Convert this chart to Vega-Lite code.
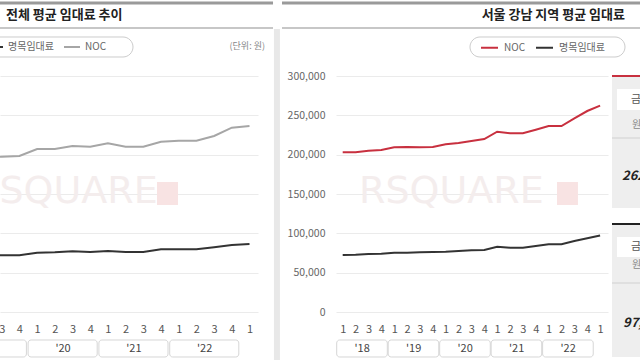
{
  "$schema": "https://vega.github.io/schema/vega-lite/v6.json",
  "autosize": {"type": "none"},
  "padding": {"left": 0, "top": 76, "right": 640, "bottom": 284},
  "background": "white",
  "bounds": "flush",
  "spacing": 78,
  "resolve": {"scale": {"x": "independent", "y": "independent", "color": "independent"}, "legend": {"color": "independent"}},
  "config": {
    "view": {"stroke": null},
    "font": "Noto Sans CJK KR",
    "text": {"font": "Noto Sans CJK KR"},
    "axis": {"labelFont": "Noto Sans CJK KR"},
    "legend": {"labelFont": "Noto Sans CJK KR"}
  },
  "datasets": {
    "total": [
      {"idx": 5, "period": "2019 Q2", "series": "NOC", "rent": 197400},
      {"idx": 6, "period": "2019 Q3", "series": "NOC", "rent": 197400},
      {"idx": 7, "period": "2019 Q4", "series": "NOC", "rent": 198300},
      {"idx": 8, "period": "2020 Q1", "series": "NOC", "rent": 207200},
      {"idx": 9, "period": "2020 Q2", "series": "NOC", "rent": 207200},
      {"idx": 10, "period": "2020 Q3", "series": "NOC", "rent": 211000},
      {"idx": 11, "period": "2020 Q4", "series": "NOC", "rent": 210100},
      {"idx": 12, "period": "2021 Q1", "series": "NOC", "rent": 214400},
      {"idx": 13, "period": "2021 Q2", "series": "NOC", "rent": 210100},
      {"idx": 14, "period": "2021 Q3", "series": "NOC", "rent": 210100},
      {"idx": 15, "period": "2021 Q4", "series": "NOC", "rent": 216500},
      {"idx": 16, "period": "2022 Q1", "series": "NOC", "rent": 217800},
      {"idx": 17, "period": "2022 Q2", "series": "NOC", "rent": 217800},
      {"idx": 18, "period": "2022 Q3", "series": "NOC", "rent": 223700},
      {"idx": 19, "period": "2022 Q4", "series": "NOC", "rent": 234300},
      {"idx": 20, "period": "2023 Q1", "series": "NOC", "rent": 236400},
      {"idx": 5, "period": "2019 Q2", "series": "명목임대료", "rent": 72100},
      {"idx": 6, "period": "2019 Q3", "series": "명목임대료", "rent": 72100},
      {"idx": 7, "period": "2019 Q4", "series": "명목임대료", "rent": 72100},
      {"idx": 8, "period": "2020 Q1", "series": "명목임대료", "rent": 75400},
      {"idx": 9, "period": "2020 Q2", "series": "명목임대료", "rent": 75900},
      {"idx": 10, "period": "2020 Q3", "series": "명목임대료", "rent": 77200},
      {"idx": 11, "period": "2020 Q4", "series": "명목임대료", "rent": 76300},
      {"idx": 12, "period": "2021 Q1", "series": "명목임대료", "rent": 77500},
      {"idx": 13, "period": "2021 Q2", "series": "명목임대료", "rent": 76300},
      {"idx": 14, "period": "2021 Q3", "series": "명목임대료", "rent": 76300},
      {"idx": 15, "period": "2021 Q4", "series": "명목임대료", "rent": 79700},
      {"idx": 16, "period": "2022 Q1", "series": "명목임대료", "rent": 79700},
      {"idx": 17, "period": "2022 Q2", "series": "명목임대료", "rent": 79700},
      {"idx": 18, "period": "2022 Q3", "series": "명목임대료", "rent": 82200},
      {"idx": 19, "period": "2022 Q4", "series": "명목임대료", "rent": 85200},
      {"idx": 20, "period": "2023 Q1", "series": "명목임대료", "rent": 86400}
    ],
    "gangnam": [
      {"idx": 0, "period": "2018 Q1", "series": "NOC", "rent": 203000},
      {"idx": 1, "period": "2018 Q2", "series": "NOC", "rent": 203000},
      {"idx": 2, "period": "2018 Q3", "series": "NOC", "rent": 205000},
      {"idx": 3, "period": "2018 Q4", "series": "NOC", "rent": 205900},
      {"idx": 4, "period": "2019 Q1", "series": "NOC", "rent": 209400},
      {"idx": 5, "period": "2019 Q2", "series": "NOC", "rent": 209700},
      {"idx": 6, "period": "2019 Q3", "series": "NOC", "rent": 209400},
      {"idx": 7, "period": "2019 Q4", "series": "NOC", "rent": 209700},
      {"idx": 8, "period": "2020 Q1", "series": "NOC", "rent": 213200},
      {"idx": 9, "period": "2020 Q2", "series": "NOC", "rent": 214800},
      {"idx": 10, "period": "2020 Q3", "series": "NOC", "rent": 217400},
      {"idx": 11, "period": "2020 Q4", "series": "NOC", "rent": 219900},
      {"idx": 12, "period": "2021 Q1", "series": "NOC", "rent": 229200},
      {"idx": 13, "period": "2021 Q2", "series": "NOC", "rent": 227200},
      {"idx": 14, "period": "2021 Q3", "series": "NOC", "rent": 227200},
      {"idx": 15, "period": "2021 Q4", "series": "NOC", "rent": 231700},
      {"idx": 16, "period": "2022 Q1", "series": "NOC", "rent": 236400},
      {"idx": 17, "period": "2022 Q2", "series": "NOC", "rent": 236400},
      {"idx": 18, "period": "2022 Q3", "series": "NOC", "rent": 246200},
      {"idx": 19, "period": "2022 Q4", "series": "NOC", "rent": 255500},
      {"idx": 20, "period": "2023 Q1", "series": "NOC", "rent": 262300},
      {"idx": 0, "period": "2018 Q1", "series": "명목임대료", "rent": 72500},
      {"idx": 1, "period": "2018 Q2", "series": "명목임대료", "rent": 72800},
      {"idx": 2, "period": "2018 Q3", "series": "명목임대료", "rent": 73700},
      {"idx": 3, "period": "2018 Q4", "series": "명목임대료", "rent": 74100},
      {"idx": 4, "period": "2019 Q1", "series": "명목임대료", "rent": 75400},
      {"idx": 5, "period": "2019 Q2", "series": "명목임대료", "rent": 75400},
      {"idx": 6, "period": "2019 Q3", "series": "명목임대료", "rent": 75900},
      {"idx": 7, "period": "2019 Q4", "series": "명목임대료", "rent": 76300},
      {"idx": 8, "period": "2020 Q1", "series": "명목임대료", "rent": 76700},
      {"idx": 9, "period": "2020 Q2", "series": "명목임대료", "rent": 77500},
      {"idx": 10, "period": "2020 Q3", "series": "명목임대료", "rent": 78400},
      {"idx": 11, "period": "2020 Q4", "series": "명목임대료", "rent": 78800},
      {"idx": 12, "period": "2021 Q1", "series": "명목임대료", "rent": 83000},
      {"idx": 13, "period": "2021 Q2", "series": "명목임대료", "rent": 81700},
      {"idx": 14, "period": "2021 Q3", "series": "명목임대료", "rent": 81700},
      {"idx": 15, "period": "2021 Q4", "series": "명목임대료", "rent": 83900},
      {"idx": 16, "period": "2022 Q1", "series": "명목임대료", "rent": 86100},
      {"idx": 17, "period": "2022 Q2", "series": "명목임대료", "rent": 86100},
      {"idx": 18, "period": "2022 Q3", "series": "명목임대료", "rent": 90300},
      {"idx": 19, "period": "2022 Q4", "series": "명목임대료", "rent": 93700},
      {"idx": 20, "period": "2023 Q1", "series": "명목임대료", "rent": 97200}
    ],
    "yearsLeft": [
      {"year": "'19", "start": 4, "end": 7},
      {"year": "'20", "start": 8, "end": 11},
      {"year": "'21", "start": 12, "end": 15},
      {"year": "'22", "start": 16, "end": 19}
    ],
    "yearsRight": [
      {"year": "'18", "start": 0, "end": 3},
      {"year": "'19", "start": 4, "end": 7},
      {"year": "'20", "start": 8, "end": 11},
      {"year": "'21", "start": 12, "end": 15},
      {"year": "'22", "start": 16, "end": 19}
    ],
    "one": [{}]
  },
  "hconcat": [
    {
      "width": 258,
      "height": 236,
      "resolve": {"axis": {"x": "independent", "y": "independent"}},
      "layer": [
        {
          "data": {"name": "total"},
          "mark": {"type": "line", "strokeWidth": 2, "clip": true},
          "encoding": {
            "x": {"field": "idx", "type": "quantitative", "scale": {"domain": [5.904, 20.48], "nice": false, "zero": false},
                  "axis": {"values": [6, 7, 8, 9, 10, 11, 12, 13, 14, 15, 16, 17, 18, 19, 20], "labelExpr": "(datum.value % 4) + 1", "grid": false, "domain": false, "ticks": false, "labelPadding": 11, "labelFontSize": 11, "labelColor": "#555555", "labelOverlap": false, "labelFlush": false, "title": null}},
            "y": {"field": "rent", "type": "quantitative", "scale": {"domain": [0, 300000], "nice": false},
                  "axis": {"values": [0, 50000, 100000, 150000, 200000, 250000, 300000], "grid": true, "gridColor": "#ebebeb", "labels": false, "domain": false, "ticks": false, "title": null}},
            "color": {"field": "series", "type": "nominal", "scale": {"domain": ["명목임대료", "NOC"], "range": ["#333333", "#a6a6a6"]},
                      "legend": {"orient": "none", "legendX": -14, "legendY": -38, "direction": "horizontal", "title": null, "labelFontSize": 10, "labelColor": "#666666", "symbolType": "stroke", "symbolSize": 256, "symbolStrokeWidth": 2, "labelOffset": 4, "columnPadding": 6, "padding": 0}}
          }
        },
        {
          "data": {"name": "one"},
          "mark": {"type": "text", "text": "RSQUARE", "align": "left", "baseline": "middle", "font": "DejaVu Sans", "fontSize": 38, "color": "#f4eded", "clip": true},
          "encoding": {"x": {"datum": 4.379, "type": "quantitative", "axis": null}, "y": {"datum": 152540, "type": "quantitative", "axis": null}}
        },
        {
          "data": {"name": "one"},
          "mark": {"type": "rect", "color": "#f8e3e3", "clip": true},
          "encoding": {"x": {"datum": 14.774, "type": "quantitative", "axis": null}, "x2": {"datum": 15.96}, "y": {"datum": 165260, "type": "quantitative", "axis": null}, "y2": {"datum": 136020}}
        },
        {
          "data": {"name": "one"},
          "mark": {"type": "rect", "color": "#e8e8e8"},
          "encoding": {"x": {"datum": 21.38, "type": "quantitative", "axis": null}, "x2": {"datum": 21.72}, "y": {"datum": 359750, "type": "quantitative", "axis": null}, "y2": {"datum": -61020}}
        },
        {
          "data": {"name": "one"},
          "mark": {"type": "rule", "color": "#9a9a9a", "strokeWidth": 3},
          "encoding": {"x": {"datum": 4.0, "type": "quantitative", "axis": null}, "x2": {"datum": 21.328}, "y": {"datum": 392800, "type": "quantitative", "axis": null}}
        },
        {
          "data": {"name": "one"},
          "mark": {"type": "rule", "color": "#b4b4b4", "strokeWidth": 1.5},
          "encoding": {"x": {"datum": 4.0, "type": "quantitative", "axis": null}, "x2": {"datum": 21.328}, "y": {"datum": 361020, "type": "quantitative", "axis": null}}
        },
        {
          "data": {"name": "one"},
          "mark": {"type": "text", "text": "전체 평균 임대료 추이", "align": "left", "baseline": "middle", "fontSize": 13, "fontWeight": "bold", "color": "#222222"},
          "encoding": {"x": {"datum": 6.243, "type": "quantitative", "axis": null}, "y": {"datum": 377550, "type": "quantitative", "axis": null}}
        },
        {
          "data": {"name": "one"},
          "mark": {"type": "rect", "fill": "white", "stroke": "#cccccc", "strokeWidth": 1, "cornerRadius": 10},
          "encoding": {"x": {"datum": 4.209, "type": "quantitative", "axis": null}, "x2": {"datum": 13.418}, "y": {"datum": 349580, "type": "quantitative", "axis": null}, "y2": {"datum": 324160}}
        },
        {
          "data": {"name": "one"},
          "mark": {"type": "text", "text": "(단위: 원)", "align": "right", "baseline": "middle", "fontSize": 9, "color": "#888888"},
          "encoding": {"x": {"datum": 20.875, "type": "quantitative", "axis": null}, "y": {"datum": 338140, "type": "quantitative", "axis": null}}
        },
        {
          "data": {"name": "yearsLeft"},
          "mark": {"type": "rect", "fill": "white", "stroke": "#d6d6d6", "strokeWidth": 1, "cornerRadius": 3, "xOffset": -9, "x2Offset": 7},
          "encoding": {"x": {"field": "start", "type": "quantitative", "axis": null}, "x2": {"field": "end"}, "y": {"datum": -35590, "type": "quantitative", "axis": null}, "y2": {"datum": -57200}}
        },
        {
          "data": {"name": "yearsLeft"},
          "mark": {"type": "text", "align": "center", "baseline": "middle", "dx": 26, "fontSize": 11, "color": "#444444"},
          "encoding": {"x": {"field": "start", "type": "quantitative", "axis": null}, "y": {"datum": -47030, "type": "quantitative", "axis": null}, "text": {"field": "year"}}
        }
      ]
    },
    {
      "width": 272,
      "height": 236,
      "resolve": {"axis": {"x": "independent", "y": "independent"}},
      "layer": [
        {
          "data": {"name": "gangnam"},
          "mark": {"type": "line", "strokeWidth": 2},
          "encoding": {
            "x": {"field": "idx", "type": "quantitative", "scale": {"domain": [-0.5206, 20.614], "nice": false, "zero": false},
                  "axis": {"values": [0, 1, 2, 3, 4, 5, 6, 7, 8, 9, 10, 11, 12, 13, 14, 15, 16, 17, 18, 19, 20], "labelExpr": "(datum.value % 4) + 1", "grid": false, "domain": false, "ticks": false, "labelPadding": 11, "labelFontSize": 11, "labelColor": "#555555", "labelOverlap": false, "labelFlush": false, "title": null}},
            "y": {"field": "rent", "type": "quantitative", "scale": {"domain": [0, 300000], "nice": false},
                  "axis": {"values": [0, 50000, 100000, 150000, 200000, 250000, 300000], "format": ",d", "grid": true, "gridColor": "#ebebeb", "domain": false, "ticks": false, "labelPadding": 11, "labelFontSize": 10.5, "labelColor": "#666666", "title": null}},
            "color": {"field": "series", "type": "nominal", "scale": {"domain": ["NOC", "명목임대료"], "range": ["#c8303f", "#333333"]},
                      "legend": {"orient": "none", "legendX": 144, "legendY": -38, "direction": "horizontal", "title": null, "labelFontSize": 10, "labelColor": "#666666", "symbolType": "stroke", "symbolSize": 289, "symbolStrokeWidth": 2, "labelOffset": 5, "columnPadding": 6, "padding": 0}}
          }
        },
        {
          "data": {"name": "one"},
          "mark": {"type": "text", "text": "RSQUARE", "align": "left", "baseline": "middle", "font": "DejaVu Sans", "fontSize": 38, "color": "#f4eded"},
          "encoding": {"x": {"datum": 1.266, "type": "quantitative", "axis": null}, "y": {"datum": 152540, "type": "quantitative", "axis": null}}
        },
        {
          "data": {"name": "one"},
          "mark": {"type": "rect", "color": "#f8e3e3"},
          "encoding": {"x": {"datum": 16.65, "type": "quantitative", "axis": null}, "x2": {"datum": 18.28}, "y": {"datum": 165260, "type": "quantitative", "axis": null}, "y2": {"datum": 136020}}
        },
        {
          "data": {"name": "one"},
          "mark": {"type": "rule", "color": "#9a9a9a", "strokeWidth": 3},
          "encoding": {"x": {"datum": -4.716, "type": "quantitative", "axis": null}, "x2": {"datum": 23.2}, "y": {"datum": 392800, "type": "quantitative", "axis": null}}
        },
        {
          "data": {"name": "one"},
          "mark": {"type": "rule", "color": "#b4b4b4", "strokeWidth": 1.5},
          "encoding": {"x": {"datum": -4.716, "type": "quantitative", "axis": null}, "x2": {"datum": 23.2}, "y": {"datum": 361020, "type": "quantitative", "axis": null}}
        },
        {
          "data": {"name": "one"},
          "mark": {"type": "text", "text": "서울 강남 지역 평균 임대료", "align": "right", "baseline": "middle", "fontSize": 13, "fontWeight": "bold", "color": "#222222"},
          "encoding": {"x": {"datum": 21.935, "type": "quantitative", "axis": null}, "y": {"datum": 377550, "type": "quantitative", "axis": null}}
        },
        {
          "data": {"name": "one"},
          "mark": {"type": "rect", "fill": "white", "stroke": "#cccccc", "strokeWidth": 1, "cornerRadius": 10},
          "encoding": {"x": {"datum": 9.891, "type": "quantitative", "axis": null}, "x2": {"datum": 21.935}, "y": {"datum": 349580, "type": "quantitative", "axis": null}, "y2": {"datum": 324160}}
        },
        {
          "data": {"name": "yearsRight"},
          "mark": {"type": "rect", "fill": "white", "stroke": "#d6d6d6", "strokeWidth": 1, "cornerRadius": 3, "xOffset": -6, "x2Offset": 6},
          "encoding": {"x": {"field": "start", "type": "quantitative", "axis": null}, "x2": {"field": "end"}, "y": {"datum": -35590, "type": "quantitative", "axis": null}, "y2": {"datum": -57200}}
        },
        {
          "data": {"name": "yearsRight"},
          "mark": {"type": "text", "align": "center", "baseline": "middle", "dx": 19.5, "fontSize": 11, "color": "#444444"},
          "encoding": {"x": {"field": "start", "type": "quantitative", "axis": null}, "y": {"datum": -47030, "type": "quantitative", "axis": null}, "text": {"field": "year"}}
        },
        {
          "data": {"name": "one"},
          "mark": {"type": "rect", "color": "#eeeeee"},
          "encoding": {"x": {"datum": 20.925, "type": "quantitative", "axis": null}, "x2": {"datum": 24.654}, "y": {"datum": 298730, "type": "quantitative", "axis": null}, "y2": {"datum": 132200}}
        },
        {
          "data": {"name": "one"},
          "mark": {"type": "rule", "color": "#c8303f", "strokeWidth": 2},
          "encoding": {"x": {"datum": 20.925, "type": "quantitative", "axis": null}, "x2": {"datum": 24.654}, "y": {"datum": 300000, "type": "quantitative", "axis": null}}
        },
        {
          "data": {"name": "one"},
          "mark": {"type": "rect", "color": "white"},
          "encoding": {"x": {"datum": 21.313, "type": "quantitative", "axis": null}, "x2": {"datum": 24.654}, "y": {"datum": 283480, "type": "quantitative", "axis": null}, "y2": {"datum": 256780}}
        },
        {
          "data": {"name": "one"},
          "mark": {"type": "text", "text": "금분기", "align": "left", "baseline": "middle", "fontSize": 11, "color": "#555555"},
          "encoding": {"x": {"datum": 22.401, "type": "quantitative", "axis": null}, "y": {"datum": 269490, "type": "quantitative", "axis": null}}
        },
        {
          "data": {"name": "one"},
          "mark": {"type": "text", "text": "원/3.3㎡", "align": "left", "baseline": "middle", "fontSize": 10, "color": "#888888"},
          "encoding": {"x": {"datum": 22.479, "type": "quantitative", "axis": null}, "y": {"datum": 237710, "type": "quantitative", "axis": null}}
        },
        {
          "data": {"name": "one"},
          "mark": {"type": "rule", "color": "#d0d0d0", "strokeWidth": 1},
          "encoding": {"x": {"datum": 20.925, "type": "quantitative", "axis": null}, "x2": {"datum": 24.654}, "y": {"datum": 221190, "type": "quantitative", "axis": null}}
        },
        {
          "data": {"name": "gangnam"},
          "transform": [{"filter": "datum.idx == 20 && datum.series == 'NOC'"}],
          "mark": {"type": "text", "align": "left", "baseline": "middle", "fontSize": 13, "fontWeight": "bold", "fontStyle": "italic", "color": "#222222"},
          "encoding": {"x": {"datum": 21.702, "type": "quantitative", "axis": null}, "y": {"datum": 172880, "type": "quantitative", "axis": null}, "text": {"field": "rent", "type": "quantitative", "format": ","}}
        },
        {
          "data": {"name": "one"},
          "mark": {"type": "rect", "color": "#eeeeee"},
          "encoding": {"x": {"datum": 20.925, "type": "quantitative", "axis": null}, "x2": {"datum": 24.654}, "y": {"datum": 110590, "type": "quantitative", "axis": null}, "y2": {"datum": -57200}}
        },
        {
          "data": {"name": "one"},
          "mark": {"type": "rule", "color": "#222222", "strokeWidth": 2},
          "encoding": {"x": {"datum": 20.925, "type": "quantitative", "axis": null}, "x2": {"datum": 24.654}, "y": {"datum": 111870, "type": "quantitative", "axis": null}}
        },
        {
          "data": {"name": "one"},
          "mark": {"type": "rect", "color": "white"},
          "encoding": {"x": {"datum": 21.313, "type": "quantitative", "axis": null}, "x2": {"datum": 24.654}, "y": {"datum": 95340, "type": "quantitative", "axis": null}, "y2": {"datum": 69920}}
        },
        {
          "data": {"name": "one"},
          "mark": {"type": "text", "text": "금분기", "align": "left", "baseline": "middle", "fontSize": 11, "color": "#555555"},
          "encoding": {"x": {"datum": 22.401, "type": "quantitative", "axis": null}, "y": {"datum": 82630, "type": "quantitative", "axis": null}}
        },
        {
          "data": {"name": "one"},
          "mark": {"type": "text", "text": "원/3.3㎡", "align": "left", "baseline": "middle", "fontSize": 10, "color": "#888888"},
          "encoding": {"x": {"datum": 22.479, "type": "quantitative", "axis": null}, "y": {"datum": 59750, "type": "quantitative", "axis": null}}
        },
        {
          "data": {"name": "one"},
          "mark": {"type": "rule", "color": "#d0d0d0", "strokeWidth": 1},
          "encoding": {"x": {"datum": 20.925, "type": "quantitative", "axis": null}, "x2": {"datum": 24.654}, "y": {"datum": 36860, "type": "quantitative", "axis": null}}
        },
        {
          "data": {"name": "gangnam"},
          "transform": [{"filter": "datum.idx == 20 && datum.series == '명목임대료'"}],
          "mark": {"type": "text", "align": "left", "baseline": "middle", "fontSize": 13, "fontWeight": "bold", "fontStyle": "italic", "color": "#222222"},
          "encoding": {"x": {"datum": 21.780, "type": "quantitative", "axis": null}, "y": {"datum": -13980, "type": "quantitative", "axis": null}, "text": {"field": "rent", "type": "quantitative", "format": ","}}
        }
      ]
    }
  ]
}
